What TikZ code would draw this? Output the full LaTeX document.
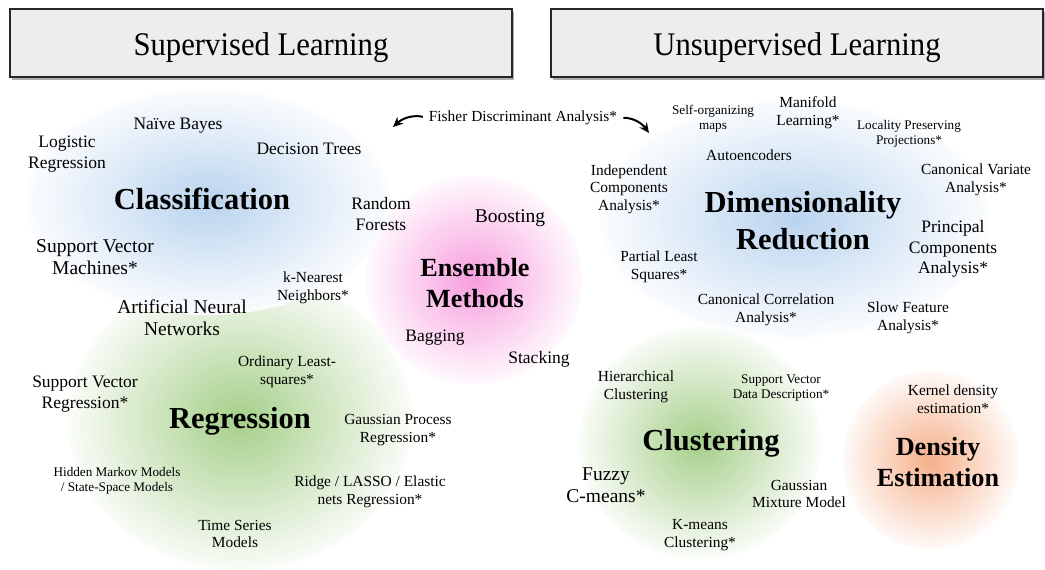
\documentclass[tikz,border=0pt]{standalone}
\usepackage{fontspec}
\setmainfont{Liberation Serif}
\usepackage{graphicx}
\usetikzlibrary{arrows.meta,shadows}
\definecolor{cblue}{RGB}{186,212,238}
\definecolor{cgreen}{RGB}{166,208,138}
\definecolor{cpink}{RGB}{247,158,222}
\definecolor{corange}{RGB}{246,176,138}
\definecolor{hdrfill}{RGB}{237,237,237}
\newcommand\myblob[5]{%
  \foreach \i in {0,...,44}{%
    \pgfmathsetmacro\s{1-\i/45}%
    \pgfmathtruncatemacro\p{7+93*\i/44}%
    \fill[#5!\p!white] (#1,#2) ellipse [x radius={\s*#3pt}, y radius={\s*#4pt}];
  }}
\tikzset{
  t/.style={align=center, inner sep=1pt, text=black},
  szA/.style={t, font=\fontsize{13.2}{15}\selectfont},
  szB/.style={t, font=\fontsize{15.4}{17.6}\selectfont},
  szC/.style={t, font=\fontsize{17.5}{20.2}\selectfont},
  szD/.style={t, font=\fontsize{19.5}{22.4}\selectfont},
  bigC/.style={t, font=\fontsize{30.5}{37}\selectfont\bfseries},
  bigE/.style={t, font=\fontsize{26.2}{31.5}\selectfont\bfseries},
  hdrbox/.style={draw=black!85, line width=1.1pt, fill=hdrfill, minimum height=68pt,
    inner sep=0pt,
    drop shadow={shadow xshift=1.5pt, shadow yshift=-3pt, opacity=0.45, fill=black!70}},
  hdrtext/.style={anchor=base, inner sep=0pt, font=\fontsize{33}{36}\selectfont},
  swoosh/.style={line width=2pt, -{Stealth[length=10pt,width=9pt]}, shorten <=5pt}
}
\begin{document}
\begin{tikzpicture}[x=1pt,y=-1pt]
\useasboundingbox (0,0) rectangle (1045,570);
% headers
\node[hdrbox, minimum width=502pt] (supbox) at (261,43) {};
\node[hdrbox, minimum width=492pt] (unsupbox) at (797,43) {};
\node[hdrtext] (sup) at (261,55) {\scalebox{0.93}[1]{Supervised Learning}};
\node[hdrtext] (unsup) at (797,55) {\scalebox{0.93}[1]{Unsupervised Learning}};
% blobs
\myblob{240}{420}{172}{150}{cgreen}
\myblob{208}{202}{182}{113}{cblue}
\myblob{700}{443}{121}{116}{cgreen}
\myblob{795}{219}{195}{119}{cblue}
\myblob{474}{280}{108}{104}{cpink}
\myblob{931}{460}{88}{89}{corange}
% Fisher
\node[szB] (fisher) at (523,118) {Fisher Discriminant Analysis*};
\coordinate (fl) at (393,127);
\coordinate (fr) at (649,133);
\draw[swoosh] (fisher.west) to[bend right=28] (fl);
\draw[swoosh] (fisher.east) to[bend left=28] (fr);
% Classification
\node[szC] (logreg) at (67,154) {Logistic\\Regression};
\node[szC] (nb) at (178,126) {Naïve Bayes};
\node[szC] (dt) at (309,149) {Decision Trees};
\node[bigC] (cls) at (202,199) {Classification};
\node[szD] (svm) at (95,257) {Support Vector\\Machines*};
\node[szB] (knn) at (313,288) {k-Nearest\\Neighbors*};
\node[szD] (ann) at (182,318) {Artificial Neural\\Networks};
% Ensemble
\node[szC] (rf) at (381,214) {Random\\Forests};
\node[szD] (boost) at (510,218) {Boosting};
\node[bigE] (ens) at (475,283) {Ensemble\\Methods};
\node[szC] (bag) at (435,338) {Bagging};
\node[szC] (stack) at (539,359) {Stacking};
% Regression
\node[szB] (ols) at (287,372) {Ordinary Least-\\squares*};
\node[szC] (svr) at (85,394) {Support Vector\\Regression*};
\node[bigC] (reg) at (240,421) {Regression};
\node[szB] (gpr) at (398,430) {Gaussian Process\\Regression*};
\node[szA] (hmm) at (117,481) {Hidden Markov Models\\/ State-Space Models};
\node[szB] (ridge) at (370,492) {Ridge / LASSO / Elastic\\nets Regression*};
\node[szB] (ts) at (235,534) {Time Series\\Models};
% Dimensionality reduction
\node[szA] (som) at (713,119) {Self-organizing\\maps};
\node[szB] (mani) at (808,113) {Manifold\\Learning*};
\node[szA] (lpp) at (909,134) {Locality Preserving\\Projections*};
\node[szB] (ae) at (749,155) {Autoencoders};
\node[szB] (ica) at (629,189) {Independent\\Components\\Analysis*};
\node[bigC] (dr) at (803,221) {Dimensionality\\Reduction};
\node[szB] (cva) at (976,180) {Canonical Variate\\Analysis*};
\node[szC] (pca) at (953,249) {Principal\\Components\\Analysis*};
\node[szB] (pls) at (659,267) {Partial Least\\Squares*};
\node[szB] (cca) at (766,310) {Canonical Correlation\\Analysis*};
\node[szB] (sfa) at (908,318) {Slow Feature\\Analysis*};
% Clustering
\node[szB] (hc) at (636,387) {Hierarchical\\Clustering};
\node[szA] (svdd) at (781,388) {Support Vector\\Data Description*};
\node[bigC] (clu) at (711,443) {Clustering};
\node[szD] (fcm) at (606,485) {Fuzzy\\C-means*};
\node[szB] (gmm) at (799,494) {Gaussian\\Mixture Model};
\node[szB] (km) at (700,535) {K-means\\Clustering*};
% Density
\node[szB] (kde) at (953,399) {Kernel density\\estimation*};
\node[bigE] (de) at (938,462) {Density\\Estimation};
\end{tikzpicture}
\end{document}
